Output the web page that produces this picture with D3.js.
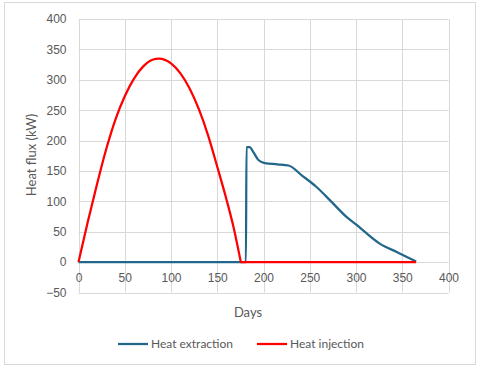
<!DOCTYPE html>
<html>
<head>
<meta charset="utf-8">
<script src="https://cdn.jsdelivr.net/npm/d3@7"></script>
<style>
  body { margin: 0; background: #fff; }
  svg { display: block; font-family: Lato, "Open Sans", sans-serif; }
  .tick text { fill: #595959; font-size: 12px; }
</style>
</head>
<body>
<svg id="chart" width="480" height="369"></svg>
<script>
// Heat injection (red): day -> kW
const injectionDays = [0, 10, 20, 30, 40, 50, 60, 70, 80, 87, 100, 110, 120, 130, 140, 150, 160, 168, 175.5, 365]
const injectionKW = [0, 66, 128, 186, 235, 273, 302, 322, 333, 335, 327, 311, 286, 252, 209, 157, 103, 55, 0, 0]

// Heat extraction (blue)
const extractionDays = [0, 181, 181.6, 185, 189, 194.5, 201.5, 215, 227, 242, 257, 273, 290, 300, 326, 345, 365]
const extractionKW = [0, 0, 189, 189, 181, 168, 163, 161, 159, 142, 124, 100, 74, 62, 30, 16, 1]

const xTicks = [0, 50, 100, 150, 200, 250, 300, 350, 400]
const yTicks = [-50, 0, 50, 100, 150, 200, 250, 300, 350, 400]

const seriesNames = ['Heat extraction', 'Heat injection']
const seriesColors = ['#22678a', '#ff0000']

const svg = d3.select('#chart')

// outer chart border
svg.append('rect')
  .attr('x', 4.5).attr('y', 2.5)
  .attr('width', 471).attr('height', 362)
  .attr('fill', 'none')
  .attr('stroke', '#d9d9d9')

const x = d3.scaleLinear().domain([0, 400]).range([78.5, 448.5])
const y = d3.scaleLinear().domain([-50, 400]).range([292.5, 19])

// gridlines
const grid = svg.append('g')
grid.selectAll('.hg').data(yTicks).enter().append('line')
  .attr('x1', x(0)).attr('x2', x(400))
  .attr('y1', d => Math.round(y(d)) + 0.5).attr('y2', d => Math.round(y(d)) + 0.5)
  .attr('stroke', '#d9d9d9')
grid.selectAll('.vg').data(xTicks).enter().append('line')
  .attr('y1', y(-50)).attr('y2', y(400))
  .attr('x1', d => Math.round(x(d)) + 0.5).attr('x2', d => Math.round(x(d)) + 0.5)
  .attr('stroke', '#d9d9d9')

// y axis labels
const yAxis = d3.axisLeft(y).tickValues(yTicks).tickSize(0).tickPadding(12)
svg.append('g')
  .attr('transform', `translate(${x(0)},0)`)
  .call(yAxis)
  .call(g => g.select('.domain').remove())

// x axis labels sit along the zero line
const xAxis = d3.axisBottom(x).tickValues(xTicks).tickSize(0).tickPadding(11)
svg.append('g')
  .attr('transform', `translate(0,${y(0)})`)
  .call(xAxis)
  .call(g => g.select('.domain').remove())

// axis titles
svg.append('text')
  .attr('x', 248).attr('y', 317)
  .attr('text-anchor', 'middle')
  .attr('fill', '#595959')
  .attr('font-size', '13px')
  .text('Days')

svg.append('text')
  .attr('transform', 'translate(36,155) rotate(-90)')
  .attr('text-anchor', 'middle')
  .attr('fill', '#595959')
  .attr('font-size', '13px')
  .text('Heat flux (kW)')

const line = d3.line()
  .curve(d3.curveMonotoneX)
  .x(d => x(d[0]))
  .y(d => y(d[1]))

// smooth curve up to the last point, then a straight run to it (keeps the sharp corner)
const smoothThenStraight = pts =>
  line(pts.slice(0, -1)) + `L${x(pts[pts.length - 1][0])},${y(pts[pts.length - 1][1])}`

const series = [
  d3.zip(extractionDays, extractionKW),
  d3.zip(injectionDays, injectionKW)
]

svg.append('g').selectAll('path').data(series).enter().append('path')
  .attr('d', (d, i) => i === 1 ? smoothThenStraight(d) : line(d))
  .attr('fill', 'none')
  .attr('stroke', (d, i) => seriesColors[i])
  .attr('stroke-width', 2.25)
  .attr('stroke-linejoin', 'round')

// legend
const legendX = [118, 257]
const legend = svg.append('g').selectAll('g').data(seriesNames).enter().append('g')
  .attr('transform', (d, i) => `translate(${legendX[i]},344)`)
legend.append('line')
  .attr('x1', 0).attr('x2', 30)
  .attr('stroke', (d, i) => seriesColors[i])
  .attr('stroke-width', 2.25)
legend.append('text')
  .attr('x', 33).attr('y', 4)
  .attr('fill', '#595959')
  .attr('font-size', '12px')
  .text(d => d)
</script>
</body>
</html>
